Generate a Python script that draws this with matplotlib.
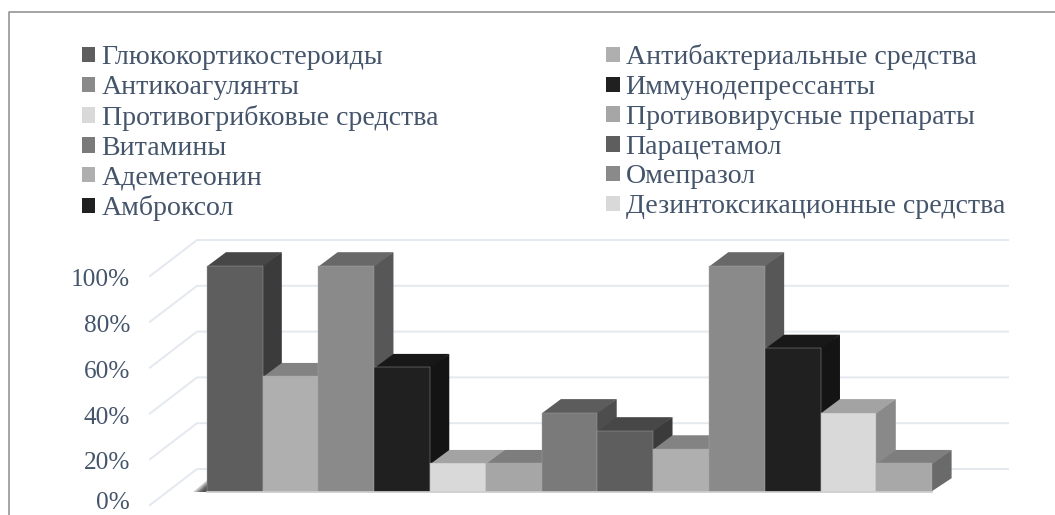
#!/usr/bin/env python3
# -*- coding: utf-8 -*-
import matplotlib
matplotlib.use('Agg')
import matplotlib.pyplot as plt
from matplotlib.lines import Line2D
from matplotlib.patches import Patch

plt.rcParams['font.family'] = ['Liberation Serif', 'DejaVu Serif']

W, H = 1055, 515
TEXT = '#44546a'
GRID = '#e4e8ef'

legend_names = ['Глюкокортикостероиды', 'Антибактериальные средства', 'Антикоагулянты',
                'Иммунодепрессанты', 'Противогрибковые средства', 'Противовирусные препараты',
                'Витамины', 'Парацетамол', 'Адеметеонин', 'Омепразол', 'Амброксол',
                'Дезинтоксикационные средства']
# 13 bars, the last one has no legend entry in the picture
values = [100, 51, 100, 55, 12.5, 12.5, 35, 27, 19, 100, 63.5, 35, 12.5]
colors = ['#5e5e5e', '#afafaf', '#8a8a8a', '#202020', '#d9d9d9', '#a6a6a6', '#7a7a7a',
          '#5e5e5e', '#afafaf', '#8a8a8a', '#202020', '#d9d9d9', '#a8a8a8']
ticks = [0, 20, 40, 60, 80, 100]
tick_labels = ['0%', '20%', '40%', '60%', '80%', '100%']


def axes_px(fig, x0, x1, y_top, y_bottom):
    return fig.add_axes([x0 / W, 1 - y_bottom / H, (x1 - x0) / W, (y_bottom - y_top) / H])


def shade(color, k):
    r, g, b = matplotlib.colors.to_rgb(color)
    return (r * k, g * k, b * k)


def main():
    fig = plt.figure(figsize=(W / 100, H / 100), dpi=100)

    # outer frame, only left and top are in the crop
    fig.add_artist(Line2D([8.5 / W, 8.5 / W, 1], [0, 1 - 11.5 / H, 1 - 11.5 / H],
                          color='#8c8c8c', lw=1.1))

    # back wall with gridlines
    wall = axes_px(fig, 197, 1008, 240, 469)
    wall.set_xlim(0, 1)
    wall.set_ylim(0, 100)
    wall.axis('off')
    drop_x = 47 / 811
    drop_y = 36 / 2.29
    for t, lab in zip(ticks, tick_labels):
        wall.plot([-drop_x, 0, 1], [t - drop_y, t, t], color=GRID, lw=1.4, clip_on=False)
        # the 0% label sits right at the bottom of the crop, nudge it in
        nudge = 0.8 if t == 0 else -1.8
        wall.text(-drop_x - 20 / 811, t - drop_y + nudge, lab, ha='right', va='center',
                  color=TEXT, fontsize=18.2)

    # front plane of the bars, one x unit is one bar
    ax = axes_px(fig, 206.7, 932.3, 265.7, 491.7)
    ax.set_xlim(0, len(values))
    ax.set_ylim(0, 100)
    ax.axis('off')
    ax.patch.set_alpha(0)
    dx = 19.3 / 55.8
    dy = 13.5 / 2.26

    # soft shadow at the foot of the first bar
    for i in range(10):
        ax.fill([-0.24 + 0.02 * i, 0, 0], [0, 0, 5 - 0.35 * i], color='#303030',
                alpha=0.16, lw=0, clip_on=False)

    for i, (v, c) in enumerate(zip(values, colors)):
        ax.fill([i + 0.98, i + 1 + dx, i + 1 + dx, i + 0.98], [0, dy, v + dy, v],
                color=shade(c, 0.63), lw=0, clip_on=False, zorder=2 + i)
        ax.fill([i, i + dx, i + 1 + dx, i + 1], [v - 0.4, v + dy, v + dy, v - 0.4],
                color=shade(c, 0.75), lw=0, clip_on=False, zorder=2 + i)
        ax.bar(i, v, width=1, align='edge', color=c, edgecolor='#a8a8a8', linewidth=0.3,
               clip_on=False, zorder=2 + i)
    ax.plot([0, len(values)], [0, 0], color='#cfcfcf', lw=1.2, clip_on=False, zorder=20)

    handles = [Patch(facecolor=c, edgecolor='none') for c in colors[:len(legend_names)]]
    left = list(range(0, len(legend_names), 2))
    right = list(range(1, len(legend_names), 2))
    order = left + right
    fig.legend([handles[i] for i in order], [legend_names[i] for i in order], ncol=2,
               loc='upper left', bbox_to_anchor=(82 / W, 1 - 44.5 / H), frameon=False,
               fontsize=20.1, labelcolor=TEXT, handlelength=0.48, handleheight=0.48,
               handletextpad=0.22, labelspacing=0.17, columnspacing=6.02, borderpad=0,
               borderaxespad=0)

    fig.savefig('out.png', dpi=100)


main()
